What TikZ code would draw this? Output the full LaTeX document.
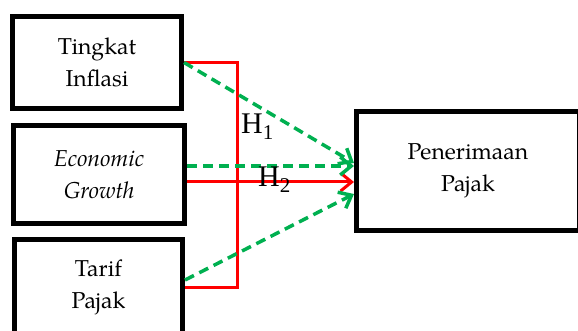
\documentclass[tikz,border=0pt]{standalone}
\usepackage{fontspec}
\setmainfont{TeX Gyre Pagella}
\newfontfamily\hfont{Liberation Serif}
\usepackage{tikz}
\usetikzlibrary{arrows.meta, calc}
\definecolor{myred}{RGB}{255,0,0}
\definecolor{mygreen}{RGB}{0,176,80}
\tikzset{
  varbox/.style={rectangle,draw=black,line width=5pt,align=center,
    font=\fontsize{23}{32}\selectfont,inner sep=0pt},
  redline/.style={line width=3pt,color=myred},
  redarrow/.style={-{Straight Barb[length=11pt,width=18pt,line width=3pt]},line width=3pt,color=myred},
  greenarrow/.style={-{Straight Barb[length=11pt,width=18pt,line width=3.5pt]},line width=3.5pt,
    color=mygreen,dash pattern=on 10pt off 6pt},
  hlabel/.style={font=\hfont\fontsize{30}{30}\selectfont,inner sep=0pt,anchor=base west}
}
\begin{document}
\begin{tikzpicture}[x=1pt,y=-1pt]
  \useasboundingbox (0,0) rectangle (578,331);

  % Independent variables
  \node[varbox, minimum width=169pt, minimum height=92pt] (infl) at (97,62.5) {Tingkat\\Inflasi};
  \node[varbox, minimum width=171pt, minimum height=98pt] (econ) at (99,174.5) {\textit{Economic}\\\textit{Growth}};
  \node[varbox, minimum width=168pt, minimum height=95pt] (tarif) at (98.5,287) {Tarif\\Pajak};

  % Dependent variable
  \node[varbox, minimum width=223pt, minimum height=119pt] (pen) at (468,171) {Penerimaan\\Pajak};

  % Simultaneous test (H2)
  \coordinate (bustop) at (237,62.5);
  \draw[redline] (infl.east) -- (bustop) -- (bustop |- tarif.east) -- (tarif.east);
  \draw[redarrow] ([yshift=-7.5pt]econ.east) -- ([yshift=-7.5pt]econ.east -| pen.west);

  % Partial tests (H1)
  \draw[greenarrow] (infl.east) -- ([yshift=8pt]pen.west);
  \draw[greenarrow] ([yshift=8.5pt]econ.east) -- ([yshift=8.5pt]econ.east -| pen.west);
  \draw[greenarrow] ([yshift=7pt]tarif.east) -- ([yshift=-23pt]pen.west);

  % Labels
  \node[hlabel] (h1) at (241,134) {H\textsubscript{1}};
  \node[hlabel] (h2) at (258,187) {H\textsubscript{2}};
\end{tikzpicture}
\end{document}
